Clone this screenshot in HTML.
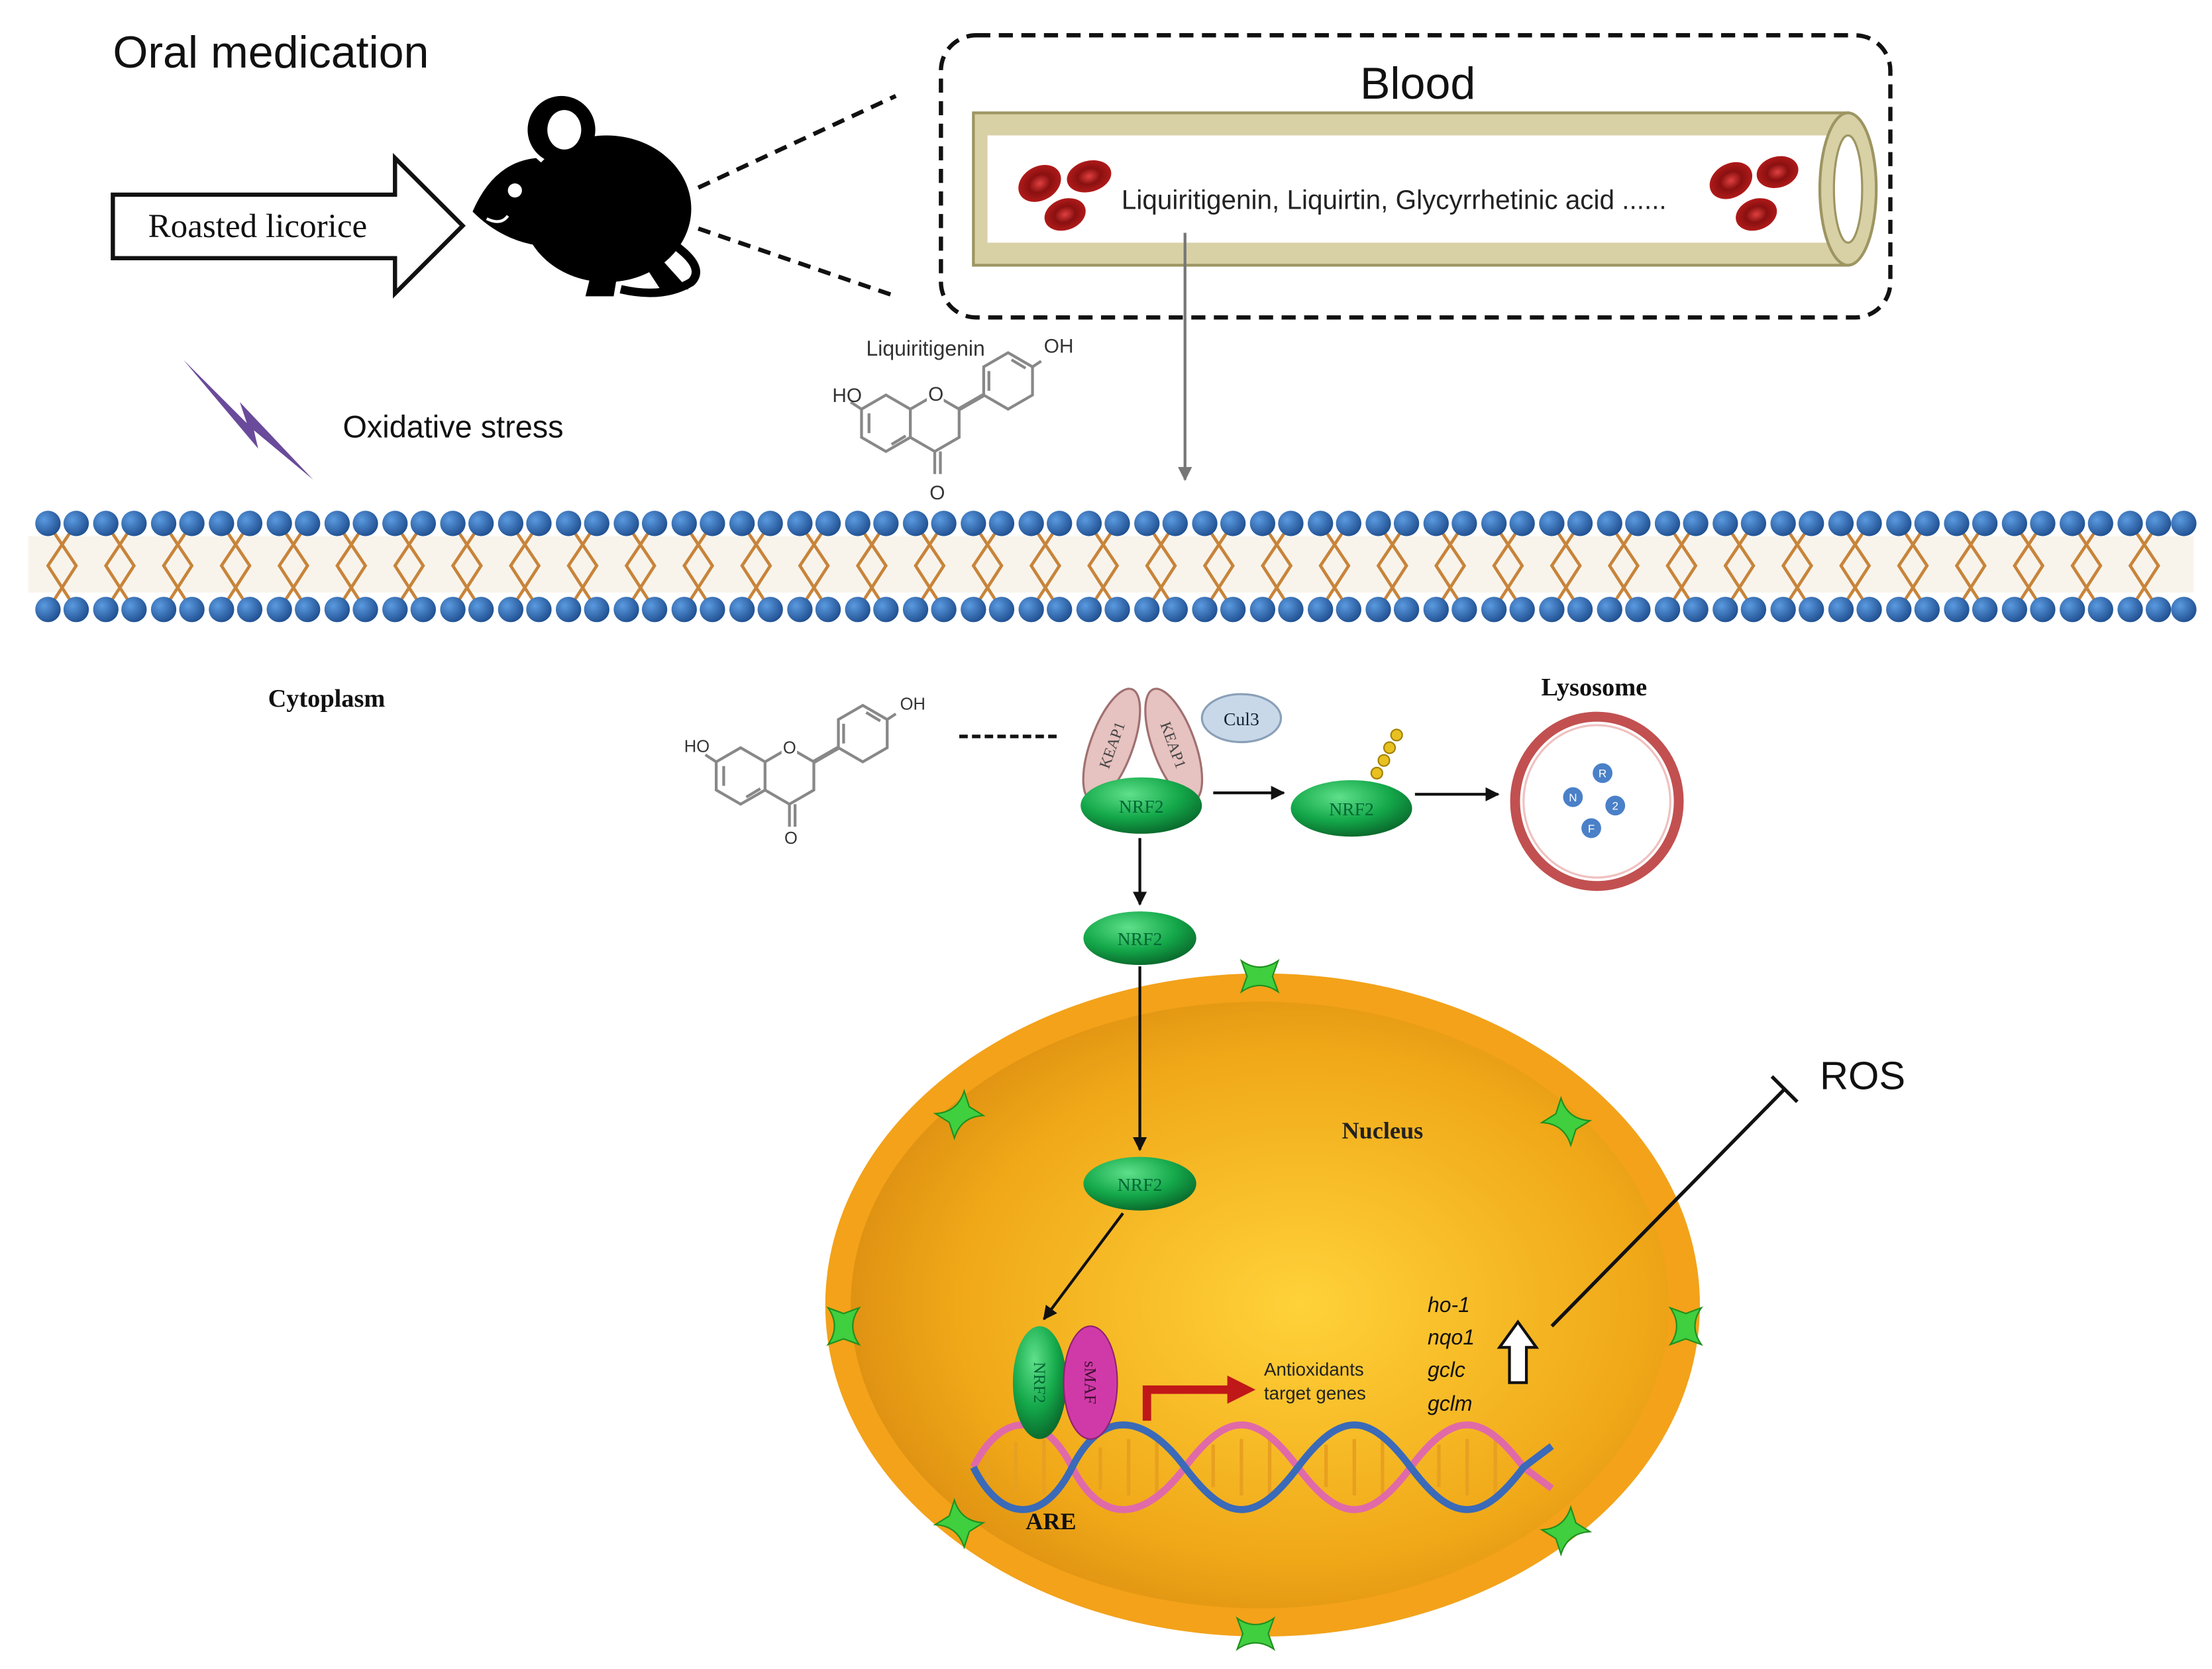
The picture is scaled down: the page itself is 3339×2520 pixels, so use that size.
<!DOCTYPE html>
<html><head><meta charset="utf-8"><style>html,body{margin:0;padding:0;background:#fff}svg{display:block}</style></head>
<body>
<svg width="3339" height="2520" viewBox="0 0 1568 1183" preserveAspectRatio="none" xmlns="http://www.w3.org/2000/svg">
<defs>
<radialGradient id="nuc" cx="0.55" cy="0.5" r="0.6"><stop offset="0" stop-color="#ffd23a"/><stop offset="0.7" stop-color="#f0a818"/><stop offset="1" stop-color="#d98a10"/></radialGradient>
<radialGradient id="grn" cx="0.4" cy="0.3" r="0.7"><stop offset="0" stop-color="#5fe08a"/><stop offset="0.6" stop-color="#14a84a"/><stop offset="1" stop-color="#0a6d2e"/></radialGradient>
<radialGradient id="ball" cx="0.35" cy="0.35" r="0.7"><stop offset="0" stop-color="#5b9ae0"/><stop offset="1" stop-color="#1f4f90"/></radialGradient>
<radialGradient id="rbc" cx="0.5" cy="0.5" r="0.5"><stop offset="0" stop-color="#e04040"/><stop offset="0.5" stop-color="#8a1010"/><stop offset="1" stop-color="#b01a1a"/></radialGradient>
<marker id="ah" markerWidth="10" markerHeight="10" refX="9" refY="5" orient="auto" markerUnits="userSpaceOnUse"><path d="M0,0 L10,5 L0,10 z" fill="#111"/></marker>
<marker id="ahg" markerWidth="10" markerHeight="10" refX="9" refY="5" orient="auto" markerUnits="userSpaceOnUse"><path d="M0,0 L10,5 L0,10 z" fill="#777"/></marker>
<g id="pore"><path d="M-13,-11 Q0,-2 13,-11 L9,0 L13,11 Q0,2 -13,11 L-9,0 z" fill="#3fcf3f" stroke="#1f8f1f" stroke-width="1"/></g>
<g id="mol" fill="none" stroke="#888" stroke-width="2">
<polygon points="0,-20 17.3,-10 17.3,10 0,20 -17.3,10 -17.3,-10"/>
<polyline points="17.3,-10 34.6,-20 51.9,-10 51.9,10 34.6,20 17.3,10"/>
<line x1="34.6" y1="20" x2="34.6" y2="36"/><line x1="38.6" y1="20" x2="38.6" y2="36"/>
<line x1="-17.3" y1="-10" x2="-25" y2="-15"/>
<line x1="51.9" y1="-10" x2="69.3" y2="-20" stroke-width="3"/>
<polygon points="86.6,-50 103.9,-40 103.9,-20 86.6,-10 69.3,-20 69.3,-40"/>
<line x1="103.9" y1="-40" x2="110" y2="-44"/>
<line x1="-12" y1="-7" x2="-12" y2="7"/><line x1="4" y1="15" x2="14" y2="9"/><line x1="73" y1="-37" x2="73" y2="-23"/><line x1="89" y1="-45" x2="99" y2="-39"/>
</g>
</defs>

<text x="80" y="48" font-family="Liberation Sans, sans-serif" font-size="32" fill="#111">Oral medication</text>
<path d="M80,138 L280,138 L280,112 L328,160 L280,208 L280,183 L80,183 z" fill="#fff" stroke="#111" stroke-width="3"/>
<text x="105" y="168" font-family="Liberation Serif, serif" font-size="24" fill="#111">Roasted licorice</text>
<g fill="#000">
<ellipse cx="430" cy="148" rx="60" ry="52"/>
<path d="M335,150 Q350,115 380,112 L400,130 L395,175 Q360,175 335,150 z"/>
<circle cx="398" cy="92" r="24"/>
<path d="M420,190 L415,210 L435,210 L438,192z M455,185 L470,208 L488,205 L470,185z"/>
<path d="M480,175 Q500,190 490,200 Q470,212 440,205" fill="none" stroke="#000" stroke-width="6"/>
</g>
<ellipse cx="400" cy="92" rx="12" ry="14" fill="#fff"/>
<circle cx="365" cy="135" r="5" fill="#fff"/>
<path d="M345,155 Q355,160 360,153" fill="none" stroke="#fff" stroke-width="2"/>
<line x1="495" y1="133" x2="635" y2="68" stroke="#111" stroke-width="3" stroke-dasharray="9,6"/>
<line x1="495" y1="162" x2="635" y2="210" stroke="#111" stroke-width="3" stroke-dasharray="9,6"/>

<rect x="667" y="25" width="673" height="200" rx="25" fill="#fff" stroke="#111" stroke-width="3" stroke-dasharray="10,6"/>
<text x="1005" y="70" text-anchor="middle" font-family="Liberation Sans, sans-serif" font-size="32" fill="#111">Blood</text>
<rect x="690" y="80" width="620" height="108" fill="#d8d1a6" stroke="#9d9562" stroke-width="2"/>
<rect x="700" y="96" width="610" height="76" fill="#fff"/>
<ellipse cx="1310" cy="134" rx="20" ry="54" fill="#d8d1a6" stroke="#9d9562" stroke-width="2"/>
<ellipse cx="1310" cy="134" rx="10" ry="38" fill="#fff" stroke="#9d9562" stroke-width="1.5"/>
<ellipse cx="737" cy="130" rx="16" ry="12" fill="url(#rbc)" transform="rotate(-30 737 130)"/>
<ellipse cx="772" cy="125" rx="16" ry="11" fill="url(#rbc)" transform="rotate(-15 772 125)"/>
<ellipse cx="755" cy="152" rx="15" ry="11" fill="url(#rbc)" transform="rotate(-20 755 152)"/>
<ellipse cx="1227" cy="128" rx="16" ry="12" fill="url(#rbc)" transform="rotate(-30 1227 128)"/>
<ellipse cx="1260" cy="122" rx="15" ry="11" fill="url(#rbc)" transform="rotate(-15 1260 122)"/>
<ellipse cx="1245" cy="152" rx="15" ry="11" fill="url(#rbc)" transform="rotate(-20 1245 152)"/>
<text x="795" y="148" font-family="Liberation Sans, sans-serif" font-size="19" fill="#222">Liquiritigenin, Liquirtin, Glycyrrhetinic acid ......</text>
<line x1="840" y1="165" x2="840" y2="340" stroke="#777" stroke-width="2" marker-end="url(#ahg)"/>

<path d="M130,255 L175,300 L170,285 L222,340 L180,305 L183,318 z" fill="#6a4a9a"/>
<text x="243" y="310" font-family="Liberation Sans, sans-serif" font-size="22" fill="#111">Oxidative stress</text>

<g transform="translate(628,300)"><use href="#mol"/></g>
<text x="614" y="252" font-family="Liberation Sans, sans-serif" font-size="15" fill="#333">Liquiritigenin</text>
<text x="590" y="285" font-family="Liberation Sans, sans-serif" font-size="14" fill="#333">HO</text>
<text x="740" y="250" font-family="Liberation Sans, sans-serif" font-size="14" fill="#333">OH</text>
<text x="659" y="354" font-family="Liberation Sans, sans-serif" font-size="14" fill="#333">O</text>
<rect x="657" y="272" width="12" height="13" fill="#fff"/>
<text x="658" y="284" font-family="Liberation Sans, sans-serif" font-size="14" fill="#333">O</text>

<rect x="20" y="380" width="1535" height="40" fill="#f8f4ec"/>
<g stroke="#c8843a" stroke-width="2.2" fill="none">
<path d="M34,371 L54,401 L34,432 M54,371 L34,401 L54,432 M75,371 L95,401 L75,432 M95,371 L75,401 L95,432 M116,371 L136,401 L116,432 M136,371 L116,401 L136,432 M157,371 L177,401 L157,432 M177,371 L157,401 L177,432 M198,371 L218,401 L198,432 M218,371 L198,401 L218,432 M239,371 L259,401 L239,432 M259,371 L239,401 L259,432 M280,371 L300,401 L280,432 M300,371 L280,401 L300,432 M321,371 L341,401 L321,432 M341,371 L321,401 L341,432 M362,371 L382,401 L362,432 M382,371 L362,401 L382,432 M403,371 L423,401 L403,432 M423,371 L403,401 L423,432 M444,371 L464,401 L444,432 M464,371 L444,401 L464,432 M485,371 L505,401 L485,432 M505,371 L485,401 L505,432 M526,371 L546,401 L526,432 M546,371 L526,401 L546,432 M567,371 L587,401 L567,432 M587,371 L567,401 L587,432 M608,371 L628,401 L608,432 M628,371 L608,401 L628,432 M649,371 L669,401 L649,432 M669,371 L649,401 L669,432 M690,371 L710,401 L690,432 M710,371 L690,401 L710,432 M731,371 L751,401 L731,432 M751,371 L731,401 L751,432 M772,371 L792,401 L772,432 M792,371 L772,401 L792,432 M813,371 L833,401 L813,432 M833,371 L813,401 L833,432 M854,371 L874,401 L854,432 M874,371 L854,401 L874,432 M895,371 L915,401 L895,432 M915,371 L895,401 L915,432 M936,371 L956,401 L936,432 M956,371 L936,401 L956,432 M977,371 L997,401 L977,432 M997,371 L977,401 L997,432 M1018,371 L1038,401 L1018,432 M1038,371 L1018,401 L1038,432 M1059,371 L1079,401 L1059,432 M1079,371 L1059,401 L1079,432 M1100,371 L1120,401 L1100,432 M1120,371 L1100,401 L1120,432 M1141,371 L1161,401 L1141,432 M1161,371 L1141,401 L1161,432 M1182,371 L1202,401 L1182,432 M1202,371 L1182,401 L1202,432 M1223,371 L1243,401 L1223,432 M1243,371 L1223,401 L1243,432 M1264,371 L1284,401 L1264,432 M1284,371 L1264,401 L1284,432 M1305,371 L1325,401 L1305,432 M1325,371 L1305,401 L1325,432 M1346,371 L1366,401 L1346,432 M1366,371 L1346,401 L1366,432 M1387,371 L1407,401 L1387,432 M1407,371 L1387,401 L1407,432 M1428,371 L1448,401 L1428,432 M1448,371 L1428,401 L1448,432 M1469,371 L1489,401 L1469,432 M1489,371 L1469,401 L1489,432 M1510,371 L1530,401 L1510,432 M1530,371 L1510,401 L1530,432"/>
</g>
<g fill="url(#ball)">
<circle cx="34" cy="371" r="9"/><circle cx="54" cy="371" r="9"/><circle cx="75" cy="371" r="9"/><circle cx="95" cy="371" r="9"/><circle cx="116" cy="371" r="9"/><circle cx="136" cy="371" r="9"/><circle cx="157" cy="371" r="9"/><circle cx="177" cy="371" r="9"/><circle cx="198" cy="371" r="9"/><circle cx="218" cy="371" r="9"/><circle cx="239" cy="371" r="9"/><circle cx="259" cy="371" r="9"/><circle cx="280" cy="371" r="9"/><circle cx="300" cy="371" r="9"/><circle cx="321" cy="371" r="9"/><circle cx="341" cy="371" r="9"/><circle cx="362" cy="371" r="9"/><circle cx="382" cy="371" r="9"/><circle cx="403" cy="371" r="9"/><circle cx="423" cy="371" r="9"/><circle cx="444" cy="371" r="9"/><circle cx="464" cy="371" r="9"/><circle cx="485" cy="371" r="9"/><circle cx="505" cy="371" r="9"/><circle cx="526" cy="371" r="9"/><circle cx="546" cy="371" r="9"/><circle cx="567" cy="371" r="9"/><circle cx="587" cy="371" r="9"/><circle cx="608" cy="371" r="9"/><circle cx="628" cy="371" r="9"/><circle cx="649" cy="371" r="9"/><circle cx="669" cy="371" r="9"/><circle cx="690" cy="371" r="9"/><circle cx="710" cy="371" r="9"/><circle cx="731" cy="371" r="9"/><circle cx="751" cy="371" r="9"/><circle cx="772" cy="371" r="9"/><circle cx="792" cy="371" r="9"/><circle cx="813" cy="371" r="9"/><circle cx="833" cy="371" r="9"/><circle cx="854" cy="371" r="9"/><circle cx="874" cy="371" r="9"/><circle cx="895" cy="371" r="9"/><circle cx="915" cy="371" r="9"/><circle cx="936" cy="371" r="9"/><circle cx="956" cy="371" r="9"/><circle cx="977" cy="371" r="9"/><circle cx="997" cy="371" r="9"/><circle cx="1018" cy="371" r="9"/><circle cx="1038" cy="371" r="9"/><circle cx="1059" cy="371" r="9"/><circle cx="1079" cy="371" r="9"/><circle cx="1100" cy="371" r="9"/><circle cx="1120" cy="371" r="9"/><circle cx="1141" cy="371" r="9"/><circle cx="1161" cy="371" r="9"/><circle cx="1182" cy="371" r="9"/><circle cx="1202" cy="371" r="9"/><circle cx="1223" cy="371" r="9"/><circle cx="1243" cy="371" r="9"/><circle cx="1264" cy="371" r="9"/><circle cx="1284" cy="371" r="9"/><circle cx="1305" cy="371" r="9"/><circle cx="1325" cy="371" r="9"/><circle cx="1346" cy="371" r="9"/><circle cx="1366" cy="371" r="9"/><circle cx="1387" cy="371" r="9"/><circle cx="1407" cy="371" r="9"/><circle cx="1428" cy="371" r="9"/><circle cx="1448" cy="371" r="9"/><circle cx="1469" cy="371" r="9"/><circle cx="1489" cy="371" r="9"/><circle cx="1510" cy="371" r="9"/><circle cx="1530" cy="371" r="9"/>
<circle cx="34" cy="432" r="9"/><circle cx="54" cy="432" r="9"/><circle cx="75" cy="432" r="9"/><circle cx="95" cy="432" r="9"/><circle cx="116" cy="432" r="9"/><circle cx="136" cy="432" r="9"/><circle cx="157" cy="432" r="9"/><circle cx="177" cy="432" r="9"/><circle cx="198" cy="432" r="9"/><circle cx="218" cy="432" r="9"/><circle cx="239" cy="432" r="9"/><circle cx="259" cy="432" r="9"/><circle cx="280" cy="432" r="9"/><circle cx="300" cy="432" r="9"/><circle cx="321" cy="432" r="9"/><circle cx="341" cy="432" r="9"/><circle cx="362" cy="432" r="9"/><circle cx="382" cy="432" r="9"/><circle cx="403" cy="432" r="9"/><circle cx="423" cy="432" r="9"/><circle cx="444" cy="432" r="9"/><circle cx="464" cy="432" r="9"/><circle cx="485" cy="432" r="9"/><circle cx="505" cy="432" r="9"/><circle cx="526" cy="432" r="9"/><circle cx="546" cy="432" r="9"/><circle cx="567" cy="432" r="9"/><circle cx="587" cy="432" r="9"/><circle cx="608" cy="432" r="9"/><circle cx="628" cy="432" r="9"/><circle cx="649" cy="432" r="9"/><circle cx="669" cy="432" r="9"/><circle cx="690" cy="432" r="9"/><circle cx="710" cy="432" r="9"/><circle cx="731" cy="432" r="9"/><circle cx="751" cy="432" r="9"/><circle cx="772" cy="432" r="9"/><circle cx="792" cy="432" r="9"/><circle cx="813" cy="432" r="9"/><circle cx="833" cy="432" r="9"/><circle cx="854" cy="432" r="9"/><circle cx="874" cy="432" r="9"/><circle cx="895" cy="432" r="9"/><circle cx="915" cy="432" r="9"/><circle cx="936" cy="432" r="9"/><circle cx="956" cy="432" r="9"/><circle cx="977" cy="432" r="9"/><circle cx="997" cy="432" r="9"/><circle cx="1018" cy="432" r="9"/><circle cx="1038" cy="432" r="9"/><circle cx="1059" cy="432" r="9"/><circle cx="1079" cy="432" r="9"/><circle cx="1100" cy="432" r="9"/><circle cx="1120" cy="432" r="9"/><circle cx="1141" cy="432" r="9"/><circle cx="1161" cy="432" r="9"/><circle cx="1182" cy="432" r="9"/><circle cx="1202" cy="432" r="9"/><circle cx="1223" cy="432" r="9"/><circle cx="1243" cy="432" r="9"/><circle cx="1264" cy="432" r="9"/><circle cx="1284" cy="432" r="9"/><circle cx="1305" cy="432" r="9"/><circle cx="1325" cy="432" r="9"/><circle cx="1346" cy="432" r="9"/><circle cx="1366" cy="432" r="9"/><circle cx="1387" cy="432" r="9"/><circle cx="1407" cy="432" r="9"/><circle cx="1428" cy="432" r="9"/><circle cx="1448" cy="432" r="9"/><circle cx="1469" cy="432" r="9"/><circle cx="1489" cy="432" r="9"/><circle cx="1510" cy="432" r="9"/><circle cx="1530" cy="432" r="9"/>
<circle cx="1548" cy="371" r="9"/><circle cx="1548" cy="432" r="9"/>
</g>

<text x="190" y="501" font-family="Liberation Serif, serif" font-weight="bold" font-size="18" fill="#111">Cytoplasm</text>

<g transform="translate(525,550)"><use href="#mol"/></g>
<text x="485" y="533" font-family="Liberation Sans, sans-serif" font-size="12" fill="#333">HO</text>
<text x="638" y="503" font-family="Liberation Sans, sans-serif" font-size="12" fill="#333">OH</text>
<rect x="554" y="524" width="11" height="12" fill="#fff"/>
<text x="555" y="534" font-family="Liberation Sans, sans-serif" font-size="12" fill="#333">O</text>
<text x="556" y="598" font-family="Liberation Sans, sans-serif" font-size="12" fill="#333">O</text>
<line x1="680" y1="522" x2="752" y2="522" stroke="#111" stroke-width="2.5" stroke-dasharray="6,3"/>

<ellipse cx="788" cy="528" rx="15" ry="42" fill="#e6c2c0" stroke="#a07070" stroke-width="1.5" transform="rotate(20 788 528)"/>
<ellipse cx="832" cy="528" rx="15" ry="42" fill="#e6c2c0" stroke="#a07070" stroke-width="1.5" transform="rotate(-20 832 528)"/>
<text x="788" y="532" text-anchor="middle" font-family="Liberation Serif, serif" font-size="11" fill="#444" transform="rotate(-70 788 528)">KEAP1</text>
<text x="832" y="532" text-anchor="middle" font-family="Liberation Serif, serif" font-size="11" fill="#444" transform="rotate(70 832 528)">KEAP1</text>
<ellipse cx="880" cy="509" rx="28" ry="17" fill="#c9d8e8" stroke="#8aa0b8" stroke-width="1.5"/>
<text x="880" y="514" text-anchor="middle" font-family="Liberation Serif, serif" font-size="13" fill="#123">Cul3</text>
<ellipse cx="809" cy="571" rx="43" ry="20" fill="url(#grn)"/>
<text x="809" y="576" text-anchor="middle" font-family="Liberation Serif, serif" font-size="13" fill="#063">NRF2</text>
<line x1="860" y1="562" x2="910" y2="562" stroke="#111" stroke-width="2" marker-end="url(#ah)"/>
<ellipse cx="958" cy="573" rx="43" ry="20" fill="url(#grn)"/>
<text x="958" y="578" text-anchor="middle" font-family="Liberation Serif, serif" font-size="13" fill="#063">NRF2</text>
<g fill="#e8c020" stroke="#a08000" stroke-width="1"><circle cx="976" cy="548" r="4"/><circle cx="981" cy="539" r="4"/><circle cx="985" cy="530" r="4"/><circle cx="990" cy="521" r="4"/></g>
<line x1="1003" y1="563" x2="1062" y2="563" stroke="#111" stroke-width="2" marker-end="url(#ah)"/>
<text x="1130" y="493" text-anchor="middle" font-family="Liberation Serif, serif" font-weight="bold" font-size="18" fill="#111">Lysosome</text>
<ellipse cx="1132" cy="568" rx="58" ry="60" fill="#fff" stroke="#c25050" stroke-width="7"/>
<ellipse cx="1132" cy="568" rx="52" ry="54" fill="none" stroke="#f0c0c0" stroke-width="1.5"/>
<g fill="#4a80c8"><circle cx="1115" cy="565" r="7"/><circle cx="1136" cy="548" r="7"/><circle cx="1145" cy="571" r="7"/><circle cx="1128" cy="587" r="7"/></g>
<g font-family="Liberation Sans, sans-serif" font-size="8" fill="#fff" text-anchor="middle"><text x="1115" y="568">N</text><text x="1136" y="551">R</text><text x="1145" y="574">2</text><text x="1128" y="590">F</text></g>

<line x1="808" y1="594" x2="808" y2="641" stroke="#111" stroke-width="2" marker-end="url(#ah)"/>
<ellipse cx="808" cy="665" rx="40" ry="19" fill="url(#grn)"/>
<text x="808" y="670" text-anchor="middle" font-family="Liberation Serif, serif" font-size="13" fill="#063">NRF2</text>

<ellipse cx="895" cy="925" rx="310" ry="235" fill="#f3a21a"/>
<ellipse cx="893" cy="925" rx="290" ry="215" fill="url(#nuc)"/>
<use href="#pore" transform="translate(893,692) rotate(0)"/>
<use href="#pore" transform="translate(1110,795) rotate(38)"/>
<use href="#pore" transform="translate(1195,940) rotate(90)"/>
<use href="#pore" transform="translate(1110,1085) rotate(-38)"/>
<use href="#pore" transform="translate(890,1158) rotate(0)"/>
<use href="#pore" transform="translate(680,1080) rotate(38)"/>
<use href="#pore" transform="translate(598,940) rotate(90)"/>
<use href="#pore" transform="translate(680,790) rotate(-38)"/>
<line x1="808" y1="685" x2="808" y2="815" stroke="#111" stroke-width="2" marker-end="url(#ah)"/>
<text x="980" y="807" text-anchor="middle" font-family="Liberation Serif, serif" font-weight="bold" font-size="17" fill="#222">Nucleus</text>
<ellipse cx="808" cy="839" rx="40" ry="19" fill="url(#grn)"/>
<text x="808" y="844" text-anchor="middle" font-family="Liberation Serif, serif" font-size="13" fill="#063">NRF2</text>
<line x1="796" y1="860" x2="740" y2="935" stroke="#111" stroke-width="2" marker-end="url(#ah)"/>

<g fill="none" stroke-width="2.5">
<g stroke="#e8a020"><path d="M700,1030 v24 M720,1022 v36 M740,1020 v40 M780,1026 v30 M800,1020 v40 M820,1020 v40 M860,1024 v30 M880,1020 v40 M900,1020 v40 M940,1024 v30 M960,1020 v40 M980,1020 v40 M1020,1024 v30 M1040,1020 v40 M1060,1020 v40"/></g>
<path d="M690,1040 C710,1000 740,1000 760,1040 S810,1080 840,1040 S890,1000 920,1040 S970,1080 1000,1040 S1050,1000 1080,1040 L1100,1055" stroke="#e06aa8" stroke-width="5"/>
<path d="M690,1040 C710,1080 740,1080 760,1040 S810,1000 840,1040 S890,1080 920,1040 S970,1000 1000,1040 S1050,1080 1080,1040 L1100,1025" stroke="#3a6ab8" stroke-width="5"/>
</g>
<ellipse cx="737" cy="980" rx="19" ry="40" fill="url(#grn)"/>
<text x="737" y="984" text-anchor="middle" font-family="Liberation Serif, serif" font-size="12" fill="#063" transform="rotate(90 737 980)">NRF2</text>
<ellipse cx="773" cy="980" rx="19" ry="40" fill="#d03aa8" stroke="#902070" stroke-width="1"/>
<text x="773" y="984" text-anchor="middle" font-family="Liberation Serif, serif" font-size="12" fill="#401030" transform="rotate(90 773 980)">sMAF</text>
<text x="745" y="1084" text-anchor="middle" font-family="Liberation Serif, serif" font-weight="bold" font-size="17" fill="#111">ARE</text>
<path d="M813,1007 L813,985 L872,985" fill="none" stroke="#c01818" stroke-width="6"/>
<path d="M870,975 L890,985 L870,995 z" fill="#c01818"/>
<text x="896" y="975" font-family="Liberation Sans, sans-serif" font-size="13" fill="#222">Antioxidants</text>
<text x="896" y="992" font-family="Liberation Sans, sans-serif" font-size="13" fill="#222">target genes</text>
<g font-family="Liberation Sans, sans-serif" font-style="italic" font-size="15" fill="#111">
<text x="1012" y="930">ho-1</text><text x="1012" y="953">nqo1</text><text x="1012" y="976">gclc</text><text x="1012" y="1000">gclm</text></g>
<path d="M1070,980 L1070,955 L1063,955 L1076,937 L1089,955 L1082,955 L1082,980 z" fill="#fff" stroke="#111" stroke-width="2"/>
<line x1="1100" y1="940" x2="1265" y2="772" stroke="#111" stroke-width="2.5"/>
<line x1="1256" y1="763" x2="1274" y2="781" stroke="#111" stroke-width="2.5"/>
<text x="1290" y="772" font-family="Liberation Sans, sans-serif" font-size="28" fill="#111">ROS</text>
</svg>
</body></html>
